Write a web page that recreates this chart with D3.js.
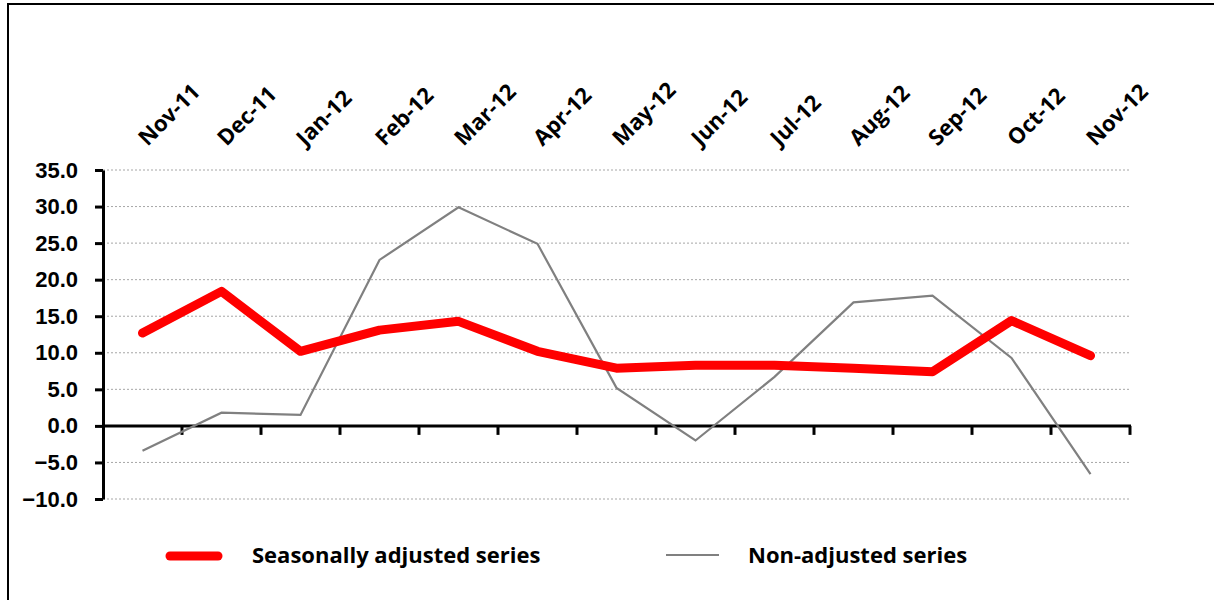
<!DOCTYPE html>
<html>
<head>
<meta charset="utf-8">
<script src="https://cdn.jsdelivr.net/npm/d3@7"></script>
<style>
	body { margin: 0; background: #fff; }
	svg { display: block; font-family: "Open Sans", Lato, sans-serif; }
	.tick-label { font-size: 22px; font-weight: bold; fill: #000; }
</style>
</head>
<body>
<svg id="chart" width="1214" height="600"></svg>
<script>
const months = ['Nov-11', 'Dec-11', 'Jan-12', 'Feb-12', 'Mar-12', 'Apr-12', 'May-12',
	'Jun-12', 'Jul-12', 'Aug-12', 'Sep-12', 'Oct-12', 'Nov-12'];
const seasonallyAdjusted = [12.7, 18.4, 10.2, 13.1, 14.3, 10.2, 7.9, 8.3, 8.3, 7.9, 7.4, 14.4, 9.6];
const nonAdjusted = [-3.4, 1.8, 1.5, 22.7, 29.9, 24.9, 5.2, -2.0, 6.7, 16.9, 17.8, 9.3, -6.6];
const yTicks = [-10, -5, 0, 5, 10, 15, 20, 25, 30, 35];
const seriesNames = ['Seasonally adjusted series', 'Non-adjusted series'];

const svg = d3.select('#chart');

// outer frame
svg.append('rect')
	.attr('x', 8).attr('y', 4)
	.attr('width', 1220).attr('height', 620)
	.attr('fill', 'none').attr('stroke', '#000').attr('stroke-width', 2);

const x = d3.scaleBand().domain(months).range([103, 1130]);
const y = d3.scaleLinear().domain([-10, 35]).range([499, 170]);

// gridlines
svg.append('g')
	.selectAll('line')
	.data(yTicks)
	.enter()
	.append('line')
	.attr('x1', 103).attr('x2', 1130)
	.attr('y1', (d)=>y(d)).attr('y2', (d)=>y(d))
	.attr('stroke', '#a6a6a6')
	.attr('stroke-width', 1)
	.attr('stroke-dasharray', '2,2');

// y axis
const yAxis = svg.append('g')
	.attr('transform', 'translate(103,0)')
	.call(d3.axisLeft(y).tickValues(yTicks).tickSize(8).tickSizeOuter(0).tickPadding(17)
		.tickFormat(d3.format('.1f')));
yAxis.select('.domain').attr('stroke', '#000').attr('stroke-width', 3);
yAxis.selectAll('.tick line').attr('stroke', '#000').attr('stroke-width', 3);
yAxis.selectAll('.tick text').attr('class', 'tick-label').attr('font-family', null).attr('font-size', null);

// x axis at zero, ticks at category boundaries
const xAxis = svg.append('g')
	.attr('transform', `translate(0,${y(0)})`);
xAxis.append('line')
	.attr('x1', 103).attr('x2', 1131)
	.attr('stroke', '#000').attr('stroke-width', 3);
xAxis.selectAll('line.xtick')
	.data(months.map((m)=>x(m) + x.bandwidth()))
	.enter()
	.append('line')
	.attr('class', 'xtick')
	.attr('x1', (d)=>d).attr('x2', (d)=>d)
	.attr('y1', 0).attr('y2', 9)
	.attr('stroke', '#000').attr('stroke-width', 3);

// rotated month labels above the plot
svg.append('g')
	.selectAll('text')
	.data(months)
	.enter()
	.append('text')
	.attr('class', 'tick-label')
	.attr('transform', (m)=>`translate(${x(m) + x.bandwidth() / 2 + 5},147) rotate(-45)`)
	.text((m)=>m);

const line = d3.line()
	.x((d, i)=>x(months[i]) + x.bandwidth() / 2)
	.y((d)=>y(d));

svg.append('path')
	.datum(nonAdjusted)
	.attr('d', line)
	.attr('fill', 'none')
	.attr('stroke', '#808080')
	.attr('stroke-width', 2.2);

svg.append('path')
	.datum(seasonallyAdjusted)
	.attr('d', line)
	.attr('fill', 'none')
	.attr('stroke', '#ff0000')
	.attr('stroke-width', 9)
	.attr('stroke-linecap', 'round')
	.attr('stroke-linejoin', 'round');

// legend
const legend = svg.append('g');
legend.append('line')
	.attr('x1', 170).attr('x2', 218).attr('y1', 556).attr('y2', 556)
	.attr('stroke', '#ff0000').attr('stroke-width', 9).attr('stroke-linecap', 'round');
legend.append('text')
	.attr('class', 'tick-label')
	.attr('x', 252).attr('y', 563)
	.text(seriesNames[0]);
legend.append('line')
	.attr('x1', 666).attr('x2', 719).attr('y1', 555).attr('y2', 555)
	.attr('stroke', '#808080').attr('stroke-width', 2.2);
legend.append('text')
	.attr('class', 'tick-label')
	.attr('x', 748).attr('y', 563)
	.text(seriesNames[1]);
</script>
</body>
</html>
